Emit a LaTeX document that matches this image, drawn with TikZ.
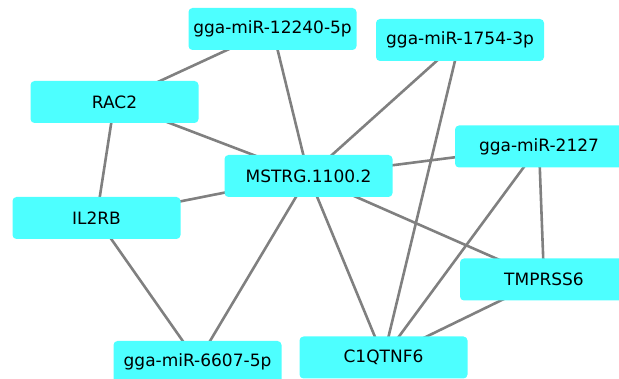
\documentclass[tikz,border=0pt]{standalone}
\usepackage{fontspec}
\setmainfont{DejaVu Sans}
\usetikzlibrary{backgrounds}
\definecolor{nodecyan}{RGB}{77,255,255}
\definecolor{edgegray}{RGB}{128,128,128}
\tikzset{
  genebox/.style={fill=nodecyan, rounded corners=4pt, minimum width=168pt, minimum height=42pt,
    inner sep=0pt, font=\fontsize{17}{20}\selectfont},
  link/.style={draw=edgegray, line width=2.6pt}
}
\begin{document}
\begin{tikzpicture}[x=1pt,y=-1pt]
        \useasboundingbox (0,0) rectangle (619,379);
        \clip (0,0) rectangle (619,379);

        % Gene nodes
        \node [genebox] (mir12240) at (272.5,29) {gga-miR-12240-5p};
        \node [genebox] (mir1754) at (460,40) {gga-miR-1754-3p};
        \node [genebox] (rac2) at (114.5,102) {RAC2};
        \node [genebox] (mir2127) at (539,146.5) {gga-miR-2127};
        \node [genebox] (mstrg) at (308.5,176) {MSTRG.1100.2};
        \node [genebox] (il2rb) at (96.5,218) {IL2RB};
        \node [genebox] (tmprss6) at (544,279.5) {TMPRSS6};
        \node [genebox] (c1qtnf6) at (383.5,357.5) {C1QTNF6};
        \node [genebox] (mir6607) at (197.5,362) {gga-miR-6607-5p};

        % Links
        \begin{scope}[on background layer]
        \draw [link] (rac2.center) -- (mir12240.center);
        \draw [link] (rac2.center) -- (mstrg.center);
        \draw [link] (rac2.center) -- (il2rb.center);
        \draw [link] (mir12240.center) -- (mstrg.center);
        \draw [link] (mir1754.center) -- (mstrg.center);
        \draw [link] (mir1754.center) -- (c1qtnf6.center);
        \draw [link] (mir2127.center) -- (mstrg.center);
        \draw [link] (mir2127.center) -- (tmprss6.center);
        \draw [link] (mir2127.center) -- (c1qtnf6.center);
        \draw [link] (mstrg.center) -- (il2rb.center);
        \draw [link] (mstrg.center) -- (mir6607.center);
        \draw [link] (mstrg.center) -- (c1qtnf6.center);
        \draw [link] (mstrg.center) -- (tmprss6.center);
        \draw [link] (tmprss6.center) -- (c1qtnf6.center);
        \draw [link] (il2rb.center) -- (mir6607.center);
        \end{scope}

\end{tikzpicture}
\end{document}
